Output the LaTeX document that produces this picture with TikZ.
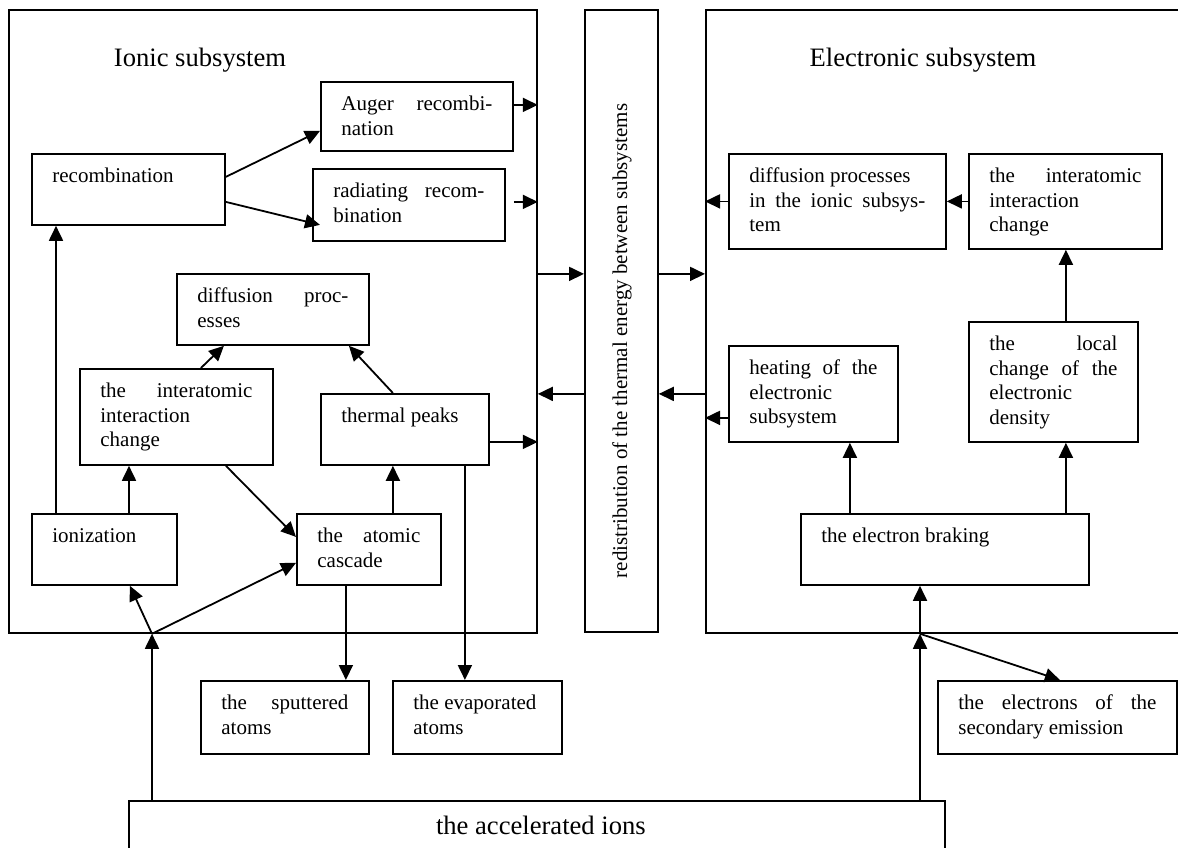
\documentclass[tikz,border=0pt]{standalone}
\usepackage{fontspec}
\setmainfont{Liberation Serif}
\usetikzlibrary{arrows.meta,calc}
\tikzset{
  frame/.style={draw, line width=1.8pt, inner sep=0pt, anchor=north west},
  pbox/.style={draw, line width=1.8pt, inner xsep=20.5pt, inner ysep=0pt, anchor=north west},
  arr/.style={line width=1.8pt, -{Triangle[length=15pt,width=14pt]}},
  title/.style={font=\fontsize{26.6}{30}\selectfont, anchor=base, inner sep=0pt},
}
\newcommand{\bx}[3]{\parbox[t][#2pt][t]{\dimexpr#1pt-41pt\relax}{\raggedright\fontsize{21}{24.4}\selectfont\rule{0pt}{29pt}#3}}
\begin{document}
\begin{tikzpicture}[x=1pt,y=-1pt]
\clip (0,0) rectangle (1178,848);
% frames
\node[frame, minimum width=528pt, minimum height=623pt] (ionic) at (8,9) {};
\node[frame, minimum width=73pt, minimum height=622pt] (redist) at (584,9) {};
\node[frame, minimum width=500pt, minimum height=623pt] (elec) at (705,9) {};
\node[rotate=90, anchor=base, inner sep=0pt, font=\fontsize{21}{24}\selectfont] (redtext) at (627,341) {redistribution of the thermal energy between subsystems};
\node[title] (ititle) at (200,67) {Ionic subsystem};
\node[title] (etitle) at (923,67) {Electronic subsystem};
% ionic nodes
\node[pbox] (auger) at (320,81) {\bx{192}{69}{Auger\hfill recombi-\\nation}};
\node[pbox] (recomb) at (31,153) {\bx{193}{71}{recombination}};
\node[pbox] (radiating) at (312,168) {\bx{192}{72}{radiating\hfill recom-\\bination}};
\node[pbox] (diffI) at (176,273) {\bx{192}{71}{diffusion\hfill proc-\\esses}};
\node[pbox] (interI) at (79,368) {\bx{193}{96}{the\hfill interatomic\\interaction\\change}};
\node[pbox] (thermal) at (320,393) {\bx{168}{71}{thermal peaks}};
\node[pbox] (ionization) at (31,513) {\bx{145}{71}{ionization}};
\node[pbox] (atomic) at (296,513) {\bx{144}{71}{the\hfill atomic\\cascade}};
% electronic nodes
\node[pbox] (diffE) at (728,153) {\bx{217}{95}{diffusion processes\\in\hfill the\hfill ionic\hfill subsys-\\tem}};
\node[pbox] (interE) at (968,153) {\bx{193}{95}{the\hfill interatomic\\interaction\\change}};
\node[pbox] (heating) at (728,345) {\bx{169}{96}{heating\hfill of\hfill the\\electronic\\subsystem}};
\node[pbox] (local) at (968,321) {\bx{169}{120}{the\hfill local\\change\hfill of\hfill the\\electronic\\density}};
\node[pbox] (braking) at (800,513) {\bx{288}{71}{the electron braking}};
% outside nodes
\node[pbox] (sputtered) at (200,680) {\bx{168}{73}{the\hfill sputtered\\atoms}};
\node[pbox] (evaporated) at (392,680) {\bx{169}{73}{the evaporated\\atoms}};
\node[pbox] (secondary) at (937,680) {\bx{239}{73}{the\hfill electrons\hfill of\hfill the\\secondary emission}};
\node[draw, line width=1.8pt, inner sep=0pt, anchor=north west] (accel) at (128,800) {\parbox[t][80pt][t]{816pt}{\centering\fontsize{26.6}{30}\selectfont\rule{0pt}{34pt}\hspace*{8pt}the accelerated ions}};
% ionic connectors
\draw[arr] ([yshift=12.5pt]recomb.east) -- ([yshift=-14.5pt]auger.west);
\draw[arr] ([yshift=-12.5pt]recomb.east) -- ([xshift=8pt,yshift=-20pt]radiating.west);
\coordinate (a1) at ([yshift=11.5pt]auger.east);
\draw[arr] (a1) -- (a1 -| ionic.east);
\coordinate (r1) at ([xshift=8pt,yshift=3pt]radiating.east);
\draw[arr] (r1) -- (r1 -| ionic.east);
\coordinate (i1) at ([xshift=25pt]ionization.north west);
\draw[arr] (i1) -- (i1 |- recomb.south);
\coordinate (i2) at ([xshift=98pt]ionization.north west);
\draw[arr] (i2) -- (i2 |- interI.south);
\draw[arr] ([xshift=24.5pt]interI.north) -- ([xshift=-49pt]diffI.south);
\draw[arr] ([xshift=-12pt]thermal.north) -- ([xshift=76pt]diffI.south);
\draw[arr] ([xshift=49.5pt]interI.south) -- ([yshift=12.5pt]atomic.west);
\coordinate (t1) at ([xshift=24pt]atomic.north);
\draw[arr] (t1) -- (t1 |- thermal.south);
\coordinate (t2) at ([yshift=-12.5pt]thermal.east);
\draw[arr] (t2) -- (t2 -| ionic.east);
\coordinate (s1) at ([xshift=-23pt]atomic.south);
\draw[arr] (s1) -- (s1 |- sputtered.north);
\coordinate (e1) at ([xshift=60pt]thermal.south);
\draw[arr] (e1) -- (e1 |- evaporated.north);
% accelerated ions
\coordinate (a0) at ([xshift=24pt]accel.north west);
\coordinate (j1) at (a0 |- ionic.south);
\draw[arr] (a0) -- (j1);
\draw[arr] (j1) -- ([xshift=25.5pt]ionization.south);
\draw[arr] (j1) -- ([yshift=-13.5pt]atomic.west);
\coordinate (a2) at ([xshift=792pt]accel.north west);
\coordinate (j2) at (a2 |- elec.south);
\draw[arr] (a2) -- (j2);
\draw[arr] (j2) -- (j2 |- braking.south);
\draw[arr] (j2) -- ([xshift=2.5pt]secondary.north);
% redistribution
\coordinate (m1) at ([yshift=47pt]redist.west);
\draw[arr] (m1 -| ionic.east) -- (m1);
\coordinate (m2) at ([yshift=47pt]redist.east);
\draw[arr] (m2) -- (m2 -| elec.west);
\coordinate (m3) at ([yshift=-73pt]redist.west);
\draw[arr] (m3) -- (m3 -| ionic.east);
\coordinate (m4) at ([yshift=-73pt]redist.east);
\draw[arr] (m4 -| elec.west) -- (m4);
% electronic connectors
\draw[arr] (interE.west) -- (diffE.east);
\draw[arr] (diffE.west) -- (diffE.west -| elec.west);
\coordinate (hh) at ([yshift=-24pt]heating.west);
\draw[arr] (hh) -- (hh -| elec.west);
\coordinate (l1) at ([xshift=12.5pt]local.north);
\draw[arr] (l1) -- (l1 |- interE.south);
\coordinate (b1) at ([xshift=-95pt]braking.north);
\draw[arr] (b1) -- (b1 |- heating.south);
\coordinate (b2) at ([xshift=121pt]braking.north);
\draw[arr] (b2) -- (b2 |- local.south);
\end{tikzpicture}
\end{document}
